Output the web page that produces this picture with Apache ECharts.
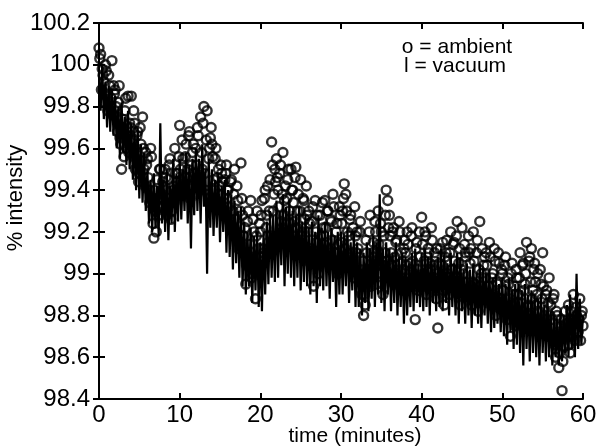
<!DOCTYPE html>
<html>
<head>
<meta charset="utf-8">
<script src="https://cdn.jsdelivr.net/npm/echarts@6/dist/echarts.min.js"></script>
<style>
  html, body { margin: 0; padding: 0; background: #fff; }
  #chart { width: 603px; height: 448px; }
</style>
</head>
<body>
<div id="chart"></div>
<script>
// time step of every series, minutes
var step = 0.2;

// ambient readings at 0, 0.2, 0.4 ... min (one row = 2 minutes)
var ambient = [
  100.08, 100.05, 99.98, 99.92, 100.0, 99.85, 99.95, 99.8, 100.02, 99.9,
  99.88, 99.75, 99.82, 99.65, 99.5, 99.7, 99.78, 99.6, 99.85, 99.72,
  99.85, 99.6, 99.72, 99.55, 99.68, 99.48, 99.62, 99.75, 99.5, 99.58,
  99.55, 99.4, 99.6, 99.35, 99.17, 99.3, 99.45, 99.28, 99.5, 99.38,
  99.35, 99.5, 99.28, 99.45, 99.55, 99.3, 99.42, 99.6, 99.38, 99.48,
  99.71, 99.45, 99.55, 99.38, 99.62, 99.5, 99.68, 99.42, 99.58, 99.48,
  99.6, 99.7, 99.45, 99.75, 99.5, 99.8, 99.4, 99.78, 99.55, 99.65,
  99.62, 99.45, 99.55, 99.35, 99.5, 99.42, 99.48, 99.3, 99.45, 99.52,
  99.4, 99.25, 99.45, 99.3, 99.5, 99.2, 99.35, 99.15, 99.53, 99.28,
  99.1, 98.95, 99.25, 99.05, 99.35, 99.0, 99.2, 98.88, 99.3, 99.12,
  99.2, 99.35, 99.1, 99.4, 99.28, 99.15, 99.45, 99.63, 99.3, 99.5,
  99.55, 99.4, 99.48, 99.25, 99.58, 99.35, 99.2, 99.45, 99.3, 99.5,
  99.4, 99.25, 99.51, 99.3, 99.15, 99.45, 99.2, 99.35, 99.1, 99.28,
  99.3, 99.05, 99.25, 98.94, 99.35, 99.15, 99.0, 99.28, 99.1, 99.22,
  99.35, 99.15, 99.3, 99.05, 99.25, 99.38, 99.1, 99.2, 99.0, 99.32,
  99.15, 99.3, 99.43, 99.38, 99.2, 99.05, 99.28, 99.1, 98.98, 99.18,
  99.2, 99.0, 99.25, 98.9, 98.8, 98.85, 99.1, 98.95, 99.28, 99.05,
  99.15, 99.25, 98.95, 99.3, 99.05, 99.2, 98.9, 99.1, 99.4, 99.35,
  99.28, 99.1, 99.2, 98.95, 99.15, 99.0, 99.25, 99.05, 98.92, 99.12,
  99.1, 99.2, 98.95, 99.05, 99.22, 99.0, 98.78, 99.15, 98.92, 99.08,
  99.27, 99.0, 99.2, 98.9, 99.12, 99.05, 99.22, 98.95, 99.1, 98.88,
  98.74, 99.05, 98.95, 99.15, 98.85, 99.1, 99.0, 98.9, 99.2, 99.02,
  99.15, 98.95, 99.25, 99.05, 98.85, 99.22, 99.0, 99.1, 98.9, 99.18,
  99.05, 98.85, 99.2, 98.95, 99.1, 98.82, 99.25, 99.0, 98.9, 99.08,
  99.1, 98.9, 99.15, 98.85, 99.0, 99.12, 98.8, 98.95, 99.05, 98.88,
  99.0, 98.85, 99.08, 98.78, 98.95, 98.7, 99.05, 98.9, 98.75, 98.98,
  98.9, 99.1, 98.8, 99.05, 98.95, 99.15, 98.85, 99.08, 99.12, 98.92,
  99.05, 98.85, 99.0, 98.75, 98.95, 99.1, 98.8, 98.9, 98.7, 98.98,
  98.85, 98.7, 98.9, 98.6, 98.8, 98.55, 98.75, 98.44, 98.65, 98.82,
  98.7, 98.85, 98.62, 98.78, 98.9, 98.68, 98.8, 98.72, 98.88, 98.8,
  98.75
];

// ambient readings at 0.1, 0.3, 0.5 ... min (one row = 2 minutes)
var ambientMid = [
  100.03, 99.88, 99.95, 99.82, 99.97, 99.78, 99.9, 99.84, 99.76, 99.86,
  99.8, 99.68, 99.9, 99.62, 99.74, 99.56, 99.84, 99.66, 99.58, 99.7,
  99.64, 99.78, 99.5, 99.66, 99.44, 99.7, 99.54, 99.6, 99.42, 99.52,
  99.46, 99.34, 99.56, 99.24, 99.4, 99.2, 99.36, 99.5, 99.32, 99.44,
  99.3, 99.46, 99.36, 99.52, 99.26, 99.4, 99.34, 99.48, 99.44, 99.56,
  99.5, 99.64, 99.4, 99.56, 99.46, 99.66, 99.36, 99.52, 99.62, 99.44,
  99.52, 99.66, 99.42, 99.58, 99.72, 99.48, 99.64, 99.38, 99.6, 99.7,
  99.56, 99.4, 99.6, 99.46, 99.38, 99.52, 99.44, 99.34, 99.48, 99.4,
  99.32, 99.44, 99.22, 99.38, 99.26, 99.42, 99.12, 99.3, 99.36, 99.18,
  99.22, 99.04, 99.3, 99.14, 98.98, 99.26, 99.08, 99.18, 99.02, 99.24,
  99.28, 99.12, 99.36, 99.22, 99.42, 99.3, 99.18, 99.52, 99.38, 99.44,
  99.46, 99.32, 99.52, 99.38, 99.28, 99.42, 99.36, 99.5, 99.24, 99.4,
  99.34, 99.46, 99.22, 99.38, 99.3, 99.18, 99.36, 99.26, 99.42, 99.2,
  99.24, 99.12, 99.32, 99.06, 99.2, 99.28, 99.08, 99.18, 99.34, 99.14,
  99.22, 99.3, 99.1, 99.26, 99.16, 99.32, 99.06, 99.24, 99.14, 99.28,
  99.24, 99.36, 99.12, 99.3, 99.18, 99.26, 99.08, 99.22, 99.32, 99.1,
  99.12, 99.2, 98.96, 99.06, 98.9, 99.16, 99.02, 99.2, 98.94, 99.1,
  99.08, 99.2, 99.0, 99.14, 99.24, 99.04, 99.18, 99.28, 99.06, 99.22,
  99.18, 99.04, 99.22, 99.08, 99.16, 98.98, 99.2, 99.1, 99.02, 99.16,
  99.04, 99.14, 98.98, 99.18, 99.06, 98.94, 99.12, 99.02, 99.2, 98.98,
  99.14, 99.06, 99.18, 98.98, 99.1, 99.02, 99.16, 99.04, 98.96, 99.12,
  98.98, 99.12, 99.04, 98.92, 99.08, 99.16, 98.96, 99.1, 99.02, 99.14,
  99.06, 99.18, 98.98, 99.12, 99.02, 98.92, 99.14, 99.08, 98.96, 99.1,
  99.12, 98.96, 99.06, 98.9, 99.16, 99.02, 98.94, 99.12, 99.04, 98.98,
  99.04, 98.94, 99.08, 98.98, 98.9, 99.06, 98.96, 99.1, 98.88, 99.02,
  98.92, 99.04, 98.84, 98.98, 98.88, 99.0, 98.82, 98.94, 99.02, 98.86,
  98.98, 98.86, 99.04, 98.92, 99.0, 98.84, 99.06, 98.96, 98.88, 99.02,
  98.96, 98.9, 98.82, 99.02, 98.88, 98.94, 98.78, 98.92, 98.86, 98.8,
  98.78, 98.88, 98.66, 98.82, 98.72, 98.62, 98.78, 98.58, 98.7, 98.76,
  98.74, 98.66, 98.82, 98.7, 98.76, 98.84, 98.72, 98.78, 98.68, 98.82
];

// vacuum readings at 0, 0.2, 0.4 ... min (one row = 2 minutes)
var vacuum = [
  99.95, 99.78, 100.0, 99.74, 99.92, 99.7, 99.9, 99.68, 99.88, 99.66,
  99.85, 99.6, 99.8, 99.55, 99.82, 99.58, 99.75, 99.52, 99.78, 99.5,
  99.72, 99.45, 99.68, 99.4, 99.7, 99.36, 99.62, 99.34, 99.58, 99.3,
  99.5, 99.24, 99.45, 99.2, 99.48, 99.22, 99.42, 99.18, 99.72, 99.24,
  99.45, 99.2, 99.5, 99.16, 99.42, 99.24, 99.55, 99.2, 99.48, 99.25,
  99.55, 99.26, 99.5, 99.3, 99.58, 99.24, 99.52, 99.12, 99.55, 99.28,
  99.6, 99.3, 99.55, 99.24, 99.62, 99.32, 99.5, 99.0, 99.55, 99.22,
  99.5, 99.18, 99.45, 99.22, 99.48, 99.15, 99.42, 99.2, 99.45, 99.1,
  99.4, 99.08, 99.38, 99.02, 99.35, 99.05, 99.3, 98.98, 99.32, 98.94,
  99.25, 98.9, 99.2, 98.94, 99.22, 98.86, 99.18, 98.92, 99.2, 98.84,
  99.15, 98.82, 99.2, 98.9, 99.25, 98.95, 99.3, 98.98, 99.28, 98.96,
  99.35, 98.98, 99.3, 99.04, 99.38, 98.94, 99.32, 99.0, 99.35, 98.98,
  99.3, 98.94, 99.28, 98.98, 99.32, 98.92, 99.25, 98.96, 99.28, 98.94,
  99.22, 98.9, 99.25, 98.94, 99.2, 98.86, 99.28, 98.94, 99.22, 98.92,
  99.25, 98.94, 99.2, 98.88, 99.22, 98.96, 99.18, 98.84, 99.2, 98.9,
  99.2, 98.9, 99.18, 98.94, 99.22, 98.86, 99.15, 98.92, 99.2, 98.84,
  99.15, 98.84, 99.12, 98.8, 99.1, 98.86, 99.15, 98.82, 99.12, 98.88,
  99.18, 98.84, 99.15, 98.9, 99.38, 98.86, 99.12, 98.82, 99.15, 98.9,
  99.12, 98.82, 99.1, 98.86, 99.15, 98.8, 99.08, 98.84, 99.1, 98.76,
  99.08, 98.8, 99.05, 98.84, 99.1, 98.82, 99.12, 98.86, 99.05, 98.84,
  99.1, 98.82, 99.12, 98.84, 99.08, 98.8, 99.1, 98.86, 99.05, 98.82,
  99.08, 98.84, 99.12, 98.82, 99.1, 98.86, 99.05, 98.8, 99.1, 98.84,
  99.05, 98.8, 99.1, 98.76, 99.08, 98.82, 99.02, 98.76, 99.05, 98.8,
  99.02, 98.74, 99.05, 98.8, 99.0, 98.76, 99.05, 98.74, 99.02, 98.8,
  99.0, 98.76, 99.02, 98.72, 98.98, 98.74, 99.0, 98.76, 98.95, 98.72,
  98.98, 98.7, 98.95, 98.66, 98.98, 98.72, 98.92, 98.64, 98.95, 98.66,
  98.95, 98.62, 98.92, 98.56, 98.95, 98.64, 98.9, 98.58, 98.92, 98.62,
  98.9, 98.6, 98.88, 98.56, 98.9, 98.62, 98.85, 98.58, 98.88, 98.6,
  98.82, 98.56, 98.8, 98.6, 98.78, 98.56, 98.82, 98.58, 98.8, 98.62,
  98.85, 98.6, 98.9, 98.64, 98.82, 98.6, 99.0, 98.64, 98.88, 98.66,
  98.8
];

var xTicks = [0, 10, 20, 30, 40, 50, 60];
var yTicks = [98.4, 98.6, 98.8, 99, 99.2, 99.4, 99.6, 99.8, 100, 100.2];

function pairs(values, offset) {
  return values.map(function (v, i) { return [+(offset + i * step).toFixed(2), v]; });
}

var font = 'Liberation Sans, Arial, Helvetica, sans-serif';
var axisLine = { lineStyle: { color: '#000', width: 2 } };
var tick = { inside: true, length: 6, lineStyle: { color: '#000', width: 2 } };
var circle = {
  type: 'scatter',
  symbol: 'circle',
  symbolSize: 9,
  itemStyle: { color: 'rgba(255,255,255,0)', borderColor: '#000', borderWidth: 2.4 },
  z: 3
};

var chart = echarts.init(document.getElementById('chart'), null, { renderer: 'canvas' });

chart.setOption({
  animation: false,
  backgroundColor: '#fff',
  grid: { left: 99, right: 20, top: 23, bottom: 49 },
  xAxis: [{
    type: 'value',
    min: xTicks[0], max: xTicks[xTicks.length - 1], interval: xTicks[1] - xTicks[0],
    axisLine: axisLine, axisTick: tick, splitLine: { show: false },
    axisLabel: { color: '#000', fontSize: 24, fontFamily: font, margin: 4 }
  }, {
    type: 'value', position: 'top',
    min: xTicks[0], max: xTicks[xTicks.length - 1], interval: xTicks[1] - xTicks[0],
    axisLine: axisLine, axisTick: tick, splitLine: { show: false },
    axisLabel: { show: false }
  }],
  yAxis: [{
    type: 'value',
    min: yTicks[0], max: yTicks[yTicks.length - 1], interval: 0.2,
    axisLine: axisLine, axisTick: tick, splitLine: { show: false },
    axisLabel: {
      color: '#000', fontSize: 24, fontFamily: font, margin: 9,
      formatter: function (v) { return String(parseFloat(v.toFixed(1))); }
    }
  }, {
    type: 'value', position: 'right',
    min: yTicks[0], max: yTicks[yTicks.length - 1], interval: 0.2,
    axisLine: axisLine, axisTick: tick, splitLine: { show: false },
    axisLabel: { show: false }
  }],
  graphic: [
    { type: 'text', x: 355, y: 436, style: { text: 'time (minutes)', fill: '#000', font: '21px ' + font, align: 'center', verticalAlign: 'middle' } },
    { type: 'text', x: 16, y: 198, rotation: Math.PI / 2, style: { text: '% intensity', fill: '#000', font: '22px ' + font, align: 'center', verticalAlign: 'middle' } },
    { type: 'text', x: 457, y: 47, style: { text: 'o = ambient', fill: '#000', font: '21px ' + font, align: 'center', verticalAlign: 'middle' } },
    { type: 'text', x: 455, y: 66, style: { text: 'l = vacuum', fill: '#000', font: '21px ' + font, align: 'center', verticalAlign: 'middle' } }
  ],
  series: [{
    name: 'vacuum',
    type: 'line',
    data: pairs(vacuum, 0),
    showSymbol: false,
    lineStyle: { color: '#000', width: 2.2 },
    z: 2
  }, Object.assign({ name: 'ambient', data: pairs(ambient, 0) }, circle),
     Object.assign({ name: 'ambient ', data: pairs(ambientMid, 0.1) }, circle)]
});
</script>
</body>
</html>
